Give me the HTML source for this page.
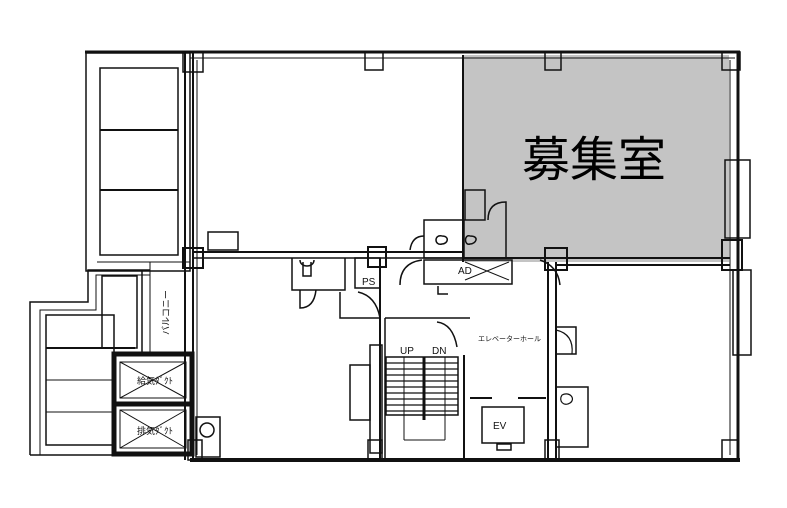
<!DOCTYPE html>
<html><head><meta charset="utf-8"><style>
html,body{margin:0;padding:0;background:#fff;}
svg{display:block;}
text{font-family:"Liberation Sans","Noto Sans CJK JP",sans-serif;}
</style></head><body>
<svg width="787" height="508" viewBox="0 0 787 508" xmlns="http://www.w3.org/2000/svg">
<rect width="787" height="508" fill="#fff"/>
<rect x="463" y="55" width="266" height="207" fill="#c4c4c4"/>
<g fill="none" stroke="#111" stroke-width="2">
<line x1="85" y1="52" x2="740" y2="52" stroke-width="3"/>
<line x1="190" y1="58" x2="735" y2="58" stroke-width="1"/>
<line x1="738" y1="52" x2="738" y2="462" stroke-width="3"/>
<line x1="730" y1="60" x2="730" y2="455" stroke-width="1"/>
<rect x="725" y="160" width="25" height="78" stroke-width="1.5"/>
<rect x="733" y="270" width="18" height="85" stroke-width="1.5"/>
<line x1="190" y1="460" x2="740" y2="460" stroke-width="4"/>
<rect x="86" y="53" width="104" height="218" stroke-width="1.5"/>
<rect x="100" y="68" width="78" height="187" stroke-width="1.5"/>
<line x1="100" y1="130" x2="178" y2="130"/>
<line x1="100" y1="190" x2="178" y2="190"/>
<line x1="97" y1="262" x2="190" y2="262" stroke-width="1"/>
<line x1="185" y1="52" x2="185" y2="460" stroke-width="2"/>
<line x1="193" y1="52" x2="193" y2="460" stroke-width="2"/>
<line x1="197" y1="60" x2="197" y2="455" stroke-width="1"/>
<polyline points="30,455 30,302 88,302 88,270 150,270" stroke-width="1.5"/>
<polyline points="40,455 40,310 96,310 96,275 150,275" stroke-width="1"/>
<rect x="46" y="315" width="68" height="130" stroke-width="1.5"/>
<line x1="46" y1="348" x2="135" y2="348"/>
<line x1="46" y1="380" x2="113" y2="380" stroke-width="1"/>
<line x1="46" y1="412" x2="113" y2="412" stroke-width="1"/>
<rect x="102" y="276" width="35" height="72" stroke-width="1.5"/>
<line x1="142" y1="270" x2="142" y2="355" stroke-width="1.5"/>
<line x1="150" y1="262" x2="150" y2="355" stroke-width="1"/>
<line x1="30" y1="455" x2="115" y2="455" stroke-width="1.5"/>
<rect x="114" y="354" width="78" height="100" stroke-width="5"/>
<line x1="114" y1="404" x2="192" y2="404" stroke-width="5"/>
<path d="M120,362 L186,398 M186,362 L120,398 M120,410 L186,448 M186,410 L120,448" stroke-width="1"/>
<rect x="120" y="362" width="66" height="36" stroke-width="1"/>
<rect x="120" y="410" width="66" height="38" stroke-width="1"/>
<rect x="196" y="417" width="24" height="40" stroke-width="1.5"/>
<circle cx="207" cy="430" r="7" stroke-width="1.5"/>
<line x1="193" y1="252" x2="463" y2="252" stroke-width="2"/>
<line x1="193" y1="258" x2="463" y2="258" stroke-width="1.5"/>
<line x1="463" y1="258" x2="730" y2="258" stroke-width="2"/>
<line x1="555" y1="265" x2="730" y2="265" stroke-width="2"/>
<line x1="463" y1="55" x2="463" y2="262" stroke-width="2"/>
<rect x="208" y="232" width="30" height="18" stroke-width="1.5"/>
<polyline points="292,258 292,290 345,290 345,258" stroke-width="1.5"/>
<path d="M300,260 c0,8 14,8 14,0 M303,262 v14 h8 v-14" stroke-width="1.5"/>
<path d="M300,290 v18 q14,0 16,-18" stroke-width="1.5"/>
<rect x="355" y="258" width="25" height="30" stroke-width="1.5"/>
<polyline points="340,292 340,318 380,318" stroke-width="1.5"/>
<path d="M358,292 q18,4 22,26" stroke-width="1.5"/>
<rect x="424" y="220" width="40" height="38" stroke-width="1.5"/>
<rect x="465" y="190" width="20" height="30" stroke-width="1.5"/>
<path d="M442,236 c-8,-2 -8,10 0,8 c6,0 8,-8 0,-8 M470,236 c-6,-2 -6,10 0,8 c6,0 10,-8 0,-8" stroke-width="1.5"/>
<path d="M488,220 q0,-18 18,-18 v56" stroke-width="1.5"/>
<path d="M410,250 q2,-14 14,-14" stroke-width="1.5"/>
<rect x="424" y="260" width="88" height="24" stroke-width="1.5"/>
<path d="M465,262 l44,18 M465,280 l44,-18" stroke-width="1"/>
<path d="M400,285 q0,-22 22,-25 M540,260 q18,6 20,25" stroke-width="1.5"/>
<path d="M438,286 v8 h10" stroke-width="1.5"/>
<line x1="380" y1="258" x2="380" y2="460" stroke-width="2"/>
<line x1="385" y1="318" x2="385" y2="460" stroke-width="1.5"/>
<line x1="385" y1="318" x2="470" y2="318" stroke-width="1.5"/>
<path d="M437,322 q16,2 20,25" stroke-width="1.5"/>
<rect x="370" y="345" width="12" height="108" stroke-width="1.5"/>
<rect x="350" y="365" width="20" height="55" stroke-width="1.5"/>
<rect x="386" y="357" width="72" height="58" stroke-width="1.5"/>
<path d="M386,363h72M386,369h72M386,375h72M386,381h72M386,387h72M386,393h72M386,399h72M386,405h72M386,411h72" stroke-width="1.3"/>
<line x1="424" y1="357" x2="424" y2="420" stroke-width="3"/>
<line x1="404" y1="357" x2="404" y2="440" stroke-width="1"/>
<line x1="445" y1="357" x2="445" y2="440" stroke-width="1"/>
<line x1="404" y1="440" x2="445" y2="440" stroke-width="1"/>
<line x1="464" y1="355" x2="464" y2="460" stroke-width="2"/>
<path d="M470,398 h22 M518,398 h28" stroke-width="2"/>
<rect x="482" y="407" width="42" height="36" stroke-width="1.5"/>
<rect x="497" y="444" width="14" height="6" stroke-width="1.5"/>
<line x1="548" y1="262" x2="548" y2="460" stroke-width="2"/>
<line x1="556" y1="262" x2="556" y2="460" stroke-width="2"/>
<rect x="556" y="327" width="20" height="27" stroke-width="1.5"/>
<path d="M556,330 q18,4 16,24" stroke-width="1.2"/>
<rect x="556" y="387" width="32" height="60" stroke-width="1.5"/>
<path d="M562,395 c8,-4 14,4 8,8 c-6,4 -12,-2 -8,-8" stroke-width="1.2"/>
<rect x="183" y="52" width="20" height="20" stroke-width="1.5"/>
<rect x="365" y="52" width="18" height="18" stroke-width="1.5"/>
<rect x="545" y="52" width="16" height="18" stroke-width="1.5"/>
<rect x="722" y="52" width="18" height="18" stroke-width="1.5"/>
<rect x="183" y="248" width="20" height="20" stroke-width="2"/>
<rect x="368" y="247" width="18" height="20" stroke-width="2"/>
<rect x="545" y="248" width="22" height="22" stroke-width="2"/>
<rect x="722" y="240" width="20" height="30" stroke-width="2"/>
<rect x="188" y="440" width="14" height="20" stroke-width="1.5"/>
<rect x="368" y="440" width="14" height="20" stroke-width="1.5"/>
<rect x="545" y="440" width="14" height="20" stroke-width="1.5"/>
<rect x="722" y="440" width="16" height="20" stroke-width="1.5"/>
</g>
<text x="522" y="176" font-size="48" fill="#000">募集室</text>
<text x="362" y="285" font-size="10" fill="#111">PS</text>
<text x="458" y="274" font-size="10" fill="#111">AD</text>
<text x="400" y="354" font-size="10" fill="#111">UP</text>
<text x="432" y="354" font-size="10" fill="#111">DN</text>
<text x="493" y="429" font-size="10" fill="#111">EV</text>
<text x="478" y="341" font-size="7" fill="#111">エレベーターホール</text>
<text x="137" y="384" font-size="9" fill="#111">給気ﾀﾞｸﾄ</text>
<text x="137" y="434" font-size="9" fill="#111">排気ﾀﾞｸﾄ</text>
<text transform="translate(169,335) rotate(-90)" font-size="9" fill="#111">バルコニー</text>
</svg>
</body></html>
